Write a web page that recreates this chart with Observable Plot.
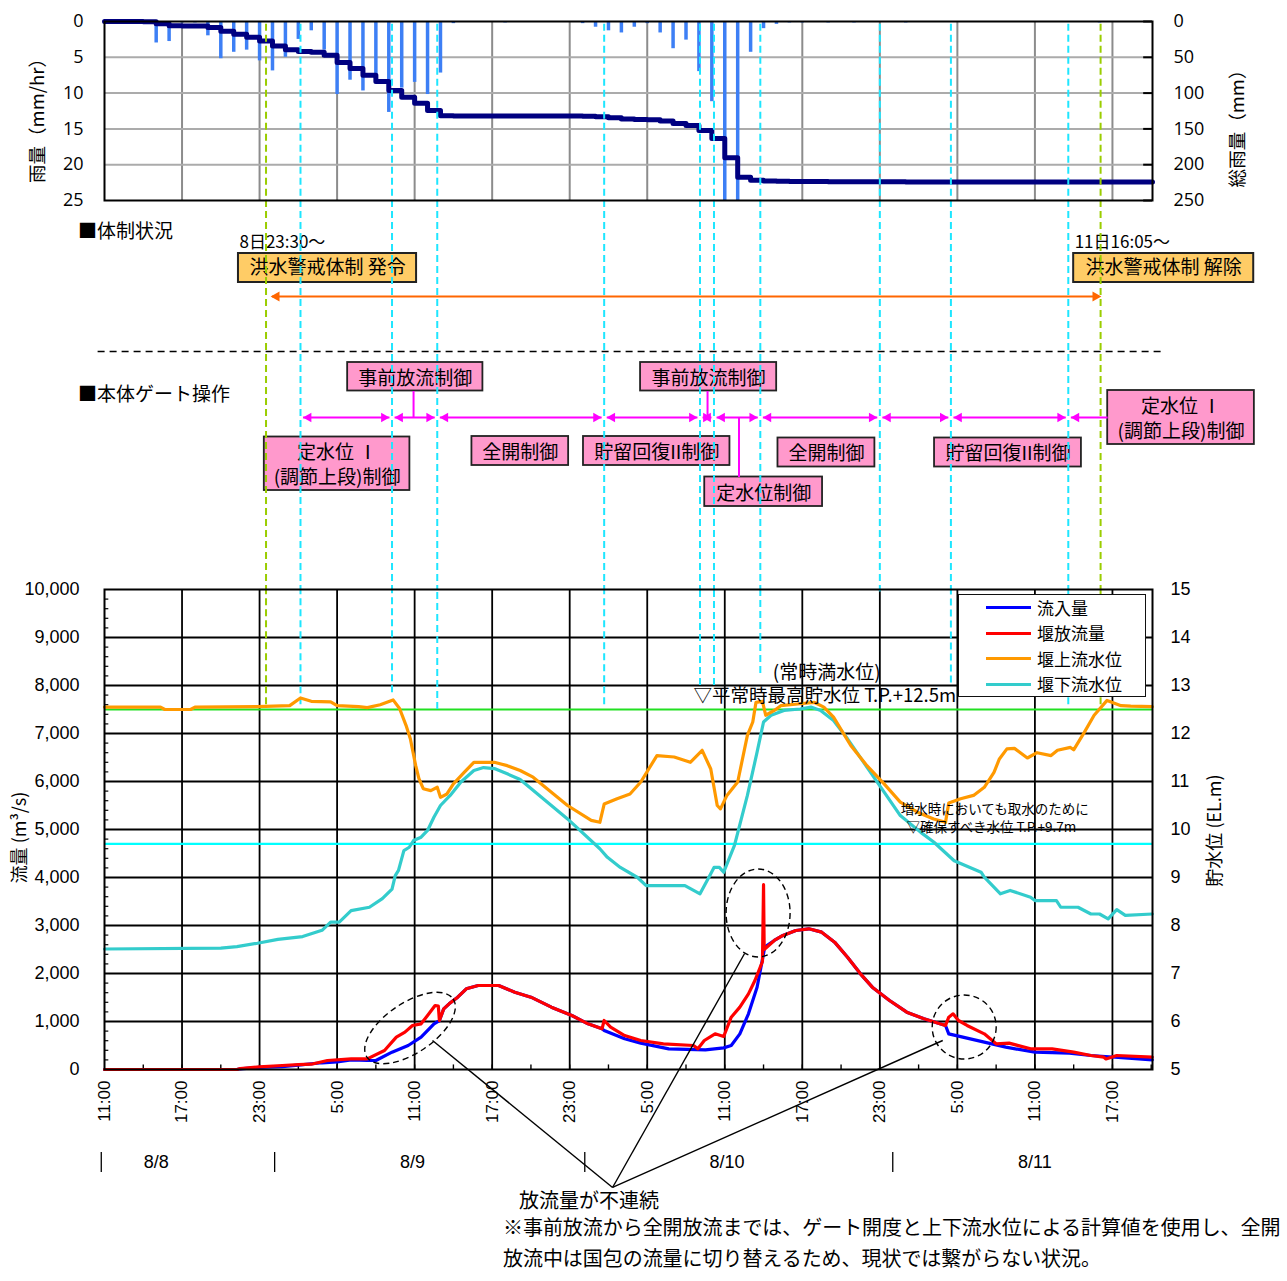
<!DOCTYPE html>
<html><head><meta charset="utf-8">
<script src="https://cdn.jsdelivr.net/npm/d3@7"></script>
<script src="https://cdn.jsdelivr.net/npm/@observablehq/plot@0.6"></script>
<style>
body{margin:0;background:#fff;}
#wrap{position:relative;width:1287px;height:1281px;overflow:hidden;font-family:"Noto Sans CJK JP","Noto Sans",sans-serif;color:#000;}
#wrap svg{position:absolute;left:0;}
.t{position:absolute;white-space:nowrap;line-height:1;}
</style></head><body><div id="wrap"></div><script>
// ---------- data ----------
const hourlyRain = [
 ["8/8 14:00",0.2],["8/8 15:00",3.0],["8/8 16:00",2.8],["8/8 17:00",0.2],["8/8 18:00",0.2],["8/8 19:00",2.0],["8/8 20:00",5.2],["8/8 21:00",4.3],["8/8 22:00",4.0],["8/8 23:00",5.5],
 ["8/9 00:00",6.9],["8/9 01:00",5.0],["8/9 02:00",2.5],["8/9 03:00",1.3],["8/9 04:00",4.0],["8/9 05:00",10.2],["8/9 06:00",8.2],["8/9 07:00",9.7],["8/9 08:00",8.5],["8/9 09:00",12.7],
 ["8/9 10:00",9.3],["8/9 11:00",8.5],["8/9 12:00",10.2],["8/9 13:00",7.2],["8/9 14:00",0.3],["8/9 18:00",0.2],
 ["8/10 00:00",0.3],["8/10 01:00",0.8],["8/10 02:00",1.3],["8/10 03:00",1.6],["8/10 04:00",0.8],["8/10 05:00",0.3],["8/10 06:00",1.6],["8/10 07:00",3.8],["8/10 08:00",2.6],["8/10 09:00",7.0],
 ["8/10 10:00",11.2],["8/10 11:00",27],["8/10 12:00",27],["8/10 13:00",4.3],["8/10 14:00",1.0],["8/10 15:00",0.4],["8/10 16:00",0.2],["8/10 17:00",0.2],["8/10 19:00",0.2],["8/10 21:00",0.2],
 ["8/11 01:00",0.2],["8/11 16:00",0.2]
];
const totalRain = [
 ["8/8 11:00",0],["8/8 14:00",0.2],["8/8 15:00",3.2],["8/8 16:00",6.0],["8/8 17:00",6.2],["8/8 18:00",6.4],["8/8 19:00",8.4],["8/8 20:00",13.6],["8/8 21:00",17.9],["8/8 22:00",21.9],["8/8 23:00",27.4],
 ["8/9 00:00",34.3],["8/9 01:00",39.3],["8/9 02:00",41.8],["8/9 03:00",43.1],["8/9 04:00",47.1],["8/9 05:00",57.3],["8/9 06:00",65.5],["8/9 07:00",75.2],["8/9 08:00",83.7],["8/9 09:00",96.4],
 ["8/9 10:00",105.7],["8/9 11:00",114.2],["8/9 12:00",124.4],["8/9 13:00",131.6],["8/9 14:00",131.9],["8/9 18:00",132.1],
 ["8/10 00:00",132.4],["8/10 01:00",133.2],["8/10 02:00",134.5],["8/10 03:00",136.1],["8/10 04:00",136.9],["8/10 05:00",137.2],["8/10 06:00",138.8],["8/10 07:00",142.6],["8/10 08:00",145.2],["8/10 09:00",152.2],
 ["8/10 10:00",163.4],["8/10 11:00",190.4],["8/10 12:00",217.4],["8/10 13:00",221.7],["8/10 14:00",222.7],["8/10 15:00",223.1],["8/10 16:00",223.3],["8/10 17:00",223.5],["8/10 19:00",223.7],["8/10 21:00",223.9],
 ["8/11 01:00",224.1],["8/11 16:00",224.3],["8/11 20:06",224.3]
];
const inflow = [
 ["8/8 11:00",0],["8/8 21:15",0],["8/8 21:30",15],["8/8 23:00",45],["8/9 00:45",60],["8/9 02:00",90],["8/9 03:50",140],["8/9 05:00",160],["8/9 06:05",200],["8/9 07:20",188],["8/9 08:00",188],
 ["8/9 09:15",361],["8/9 10:30",500],["8/9 11:30",674],["8/9 12:30",951],["8/9 12:55",1020],["8/9 13:15",1264],["8/9 13:40",1368],["8/9 14:20",1507],["8/9 15:00",1681],["8/9 15:55",1750],
 ["8/9 17:30",1750],["8/9 18:45",1611],["8/9 20:00",1507],["8/9 21:35",1299],["8/9 23:10",1125],["8/10 00:25",951],["8/10 01:30",847],["8/10 01:40",813],["8/10 03:15",639],["8/10 04:30",549],
 ["8/10 06:40",431],["8/10 09:30",410],["8/10 10:55",451],["8/10 11:30",500],["8/10 12:10",743],["8/10 12:50",1160],["8/10 13:30",1715],["8/10 14:00",2410],["8/10 14:05",2549],["8/10 14:50",2688],
 ["8/10 15:30",2792],["8/10 16:30",2896],["8/10 17:30",2931],["8/10 18:30",2861],["8/10 19:30",2653],["8/10 20:30",2340],["8/10 21:30",1993],["8/10 22:25",1715],["8/10 23:45",1438],["8/11 01:05",1194],
 ["8/11 02:25",1056],["8/11 04:05",917],["8/11 04:20",743],["8/11 05:25",674],["8/11 07:05",570],["8/11 08:45",465],["8/11 11:00",361],["8/11 13:40",340],["8/11 15:20",292],["8/11 20:05",201]
];
const discharge = [
 ["8/8 11:00",0],["8/8 21:15",0],["8/8 21:30",20],["8/8 23:00",55],["8/9 00:45",83],["8/9 02:00",100],["8/9 03:00",110],["8/9 04:15",188],["8/9 06:05",222],["8/9 07:20",222],["8/9 08:40",396],
 ["8/9 09:35",674],["8/9 10:15",778],["8/9 10:50",917],["8/9 11:30",951],["8/9 12:00",1125],["8/9 12:35",1333],["8/9 12:50",1320],["8/9 12:55",1020],["8/9 13:15",1264],["8/9 13:40",1368],
 ["8/9 14:20",1507],["8/9 15:00",1681],["8/9 15:55",1750],["8/9 17:30",1750],["8/9 18:45",1611],["8/9 20:00",1507],["8/9 21:35",1299],["8/9 23:10",1125],["8/10 00:25",951],["8/10 01:30",847],
 ["8/10 01:40",1021],["8/10 02:10",882],["8/10 03:15",708],["8/10 04:30",604],["8/10 06:15",535],["8/10 08:35",500],["8/10 08:55",431],["8/10 09:25",604],["8/10 10:15",743],["8/10 10:55",688],
 ["8/10 11:30",1090],["8/10 12:10",1299],["8/10 12:50",1576],["8/10 13:20",1854],["8/10 13:55",2250],["8/10 14:00",3850],["8/10 14:03",2500],["8/10 14:50",2688],["8/10 15:30",2792],["8/10 16:30",2896],
 ["8/10 17:30",2931],["8/10 18:30",2861],["8/10 19:30",2653],["8/10 20:30",2340],["8/10 21:30",1993],["8/10 22:25",1715],["8/10 23:45",1438],["8/11 01:05",1194],["8/11 02:25",1056],["8/11 04:05",917],
 ["8/11 04:20",1090],["8/11 04:40",1160],["8/11 05:05",1021],["8/11 05:45",917],["8/11 07:05",743],["8/11 08:00",535],["8/11 09:00",549],["8/11 10:40",431],["8/11 12:20",431],["8/11 14:00",361],
 ["8/11 15:20",292],["8/11 16:20",257],["8/11 16:30",220],["8/11 17:20",292],["8/11 20:05",257]
];
const upstreamLevel = [
 ["8/8 11:00",12.55],["8/8 15:20",12.55],["8/8 15:40",12.50],["8/8 17:40",12.50],["8/8 18:00",12.55],["8/8 22:50",12.56],["8/9 01:20",12.58],["8/9 02:10",12.74],["8/9 03:00",12.67],["8/9 04:30",12.66],
 ["8/9 05:00",12.58],["8/9 06:40",12.56],["8/9 07:20",12.54],["8/9 08:20",12.60],["8/9 09:20",12.70],["8/9 09:50",12.52],["8/9 10:20",12.17],["8/9 10:40",11.89],["8/9 11:05",11.33],["8/9 11:20",11.06],
 ["8/9 11:40",10.85],["8/9 12:15",10.81],["8/9 12:45",10.88],["8/9 13:00",10.67],["8/9 13:30",10.74],["8/9 14:00",10.95],["8/9 14:50",11.19],["8/9 15:35",11.40],["8/9 17:10",11.40],["8/9 18:10",11.33],
 ["8/9 19:10",11.23],["8/9 20:10",11.09],["8/9 22:50",10.50],["8/10 00:40",10.19],["8/10 01:20",10.15],["8/10 01:40",10.53],["8/10 02:40",10.64],["8/10 03:40",10.74],["8/10 04:30",10.99],["8/10 05:45",11.54],
 ["8/10 07:05",11.51],["8/10 08:20",11.40],["8/10 09:15",11.65],["8/10 09:55",11.26],["8/10 10:25",10.50],["8/10 10:40",10.43],["8/10 11:10",10.71],["8/10 12:00",10.99],["8/10 12:45",11.96],["8/10 13:10",12.24],
 ["8/10 13:25",12.65],["8/10 13:55",12.67],["8/10 14:10",12.38],["8/10 14:50",12.48],["8/10 15:20",12.58],["8/10 16:50",12.62],["8/10 17:55",12.65],["8/10 18:40",12.55],["8/10 19:25",12.34],["8/10 20:45",11.75],
 ["8/10 22:00",11.33],["8/10 23:20",10.95],["8/11 00:35",10.57],["8/11 01:55",10.36],["8/11 03:10",10.22],["8/11 04:05",10.15],["8/11 04:20",10.55],["8/11 05:15",10.64],["8/11 06:15",10.71],["8/11 07:05",10.88],
 ["8/11 07:50",11.19],["8/11 08:15",11.47],["8/11 08:50",11.68],["8/11 09:25",11.69],["8/11 10:25",11.49],["8/11 11:10",11.60],["8/11 12:15",11.54],["8/11 12:45",11.65],["8/11 13:45",11.71],["8/11 14:00",11.66],
 ["8/11 14:50",12.03],["8/11 15:35",12.38],["8/11 16:35",12.69],["8/11 17:40",12.58],["8/11 18:25",12.57],["8/11 20:05",12.56]
];
const downstreamLevel = [
 ["8/8 11:00",7.51],["8/8 20:00",7.53],["8/8 21:15",7.56],["8/8 22:50",7.63],["8/9 00:25",7.71],["8/9 02:20",7.77],["8/9 03:50",7.90],["8/9 04:30",8.07],["8/9 05:10",8.07],["8/9 06:05",8.31],
 ["8/9 07:30",8.38],["8/9 08:30",8.56],["8/9 09:15",8.76],["8/9 09:30",9.04],["8/9 09:45",9.15],["8/9 10:10",9.56],["8/9 10:35",9.63],["8/9 10:55",9.77],["8/9 11:30",9.84],["8/9 12:00",9.98],
 ["8/9 12:30",10.26],["8/9 13:00",10.50],["8/9 13:45",10.71],["8/9 14:35",10.99],["8/9 15:35",11.23],["8/9 16:20",11.29],["8/9 17:10",11.27],["8/9 18:10",11.16],["8/9 19:10",11.04],["8/9 22:50",10.22],
 ["8/10 01:20",9.60],["8/10 01:55",9.42],["8/10 02:55",9.21],["8/10 04:15",9.00],["8/10 04:55",8.83],["8/10 07:55",8.83],["8/10 09:05",8.66],["8/10 09:55",9.08],["8/10 10:10",9.21],["8/10 10:35",9.21],
 ["8/10 10:55",9.11],["8/10 11:45",9.67],["8/10 12:45",10.71],["8/10 13:30",11.61],["8/10 14:00",12.24],["8/10 14:35",12.38],["8/10 15:35",12.48],["8/10 16:50",12.51],["8/10 17:40",12.55],["8/10 18:25",12.48],
 ["8/10 19:25",12.27],["8/10 20:30",11.89],["8/10 22:00",11.30],["8/10 23:20",10.78],["8/11 00:35",10.29],["8/11 02:10",9.94],["8/11 03:10",9.74],["8/11 04:45",9.35],["8/11 06:50",9.11],["8/11 07:05",9.01],
 ["8/11 08:20",8.66],["8/11 09:05",8.73],["8/11 10:40",8.59],["8/11 11:00",8.52],["8/11 12:40",8.52],["8/11 13:00",8.38],["8/11 14:20",8.38],["8/11 15:20",8.24],["8/11 16:00",8.24],["8/11 16:40",8.14],
 ["8/11 17:20",8.33],["8/11 18:00",8.21],["8/11 20:05",8.24]
];
const seriesNames = ["流入量","堰放流量","堰上流水位","堰下流水位"];
const seriesColors = ["#0000ff","#ff0000","#ff9900","#33cccc"];

const timeTicks = ["8/8 11:00","8/8 17:00","8/8 23:00","8/9 05:00","8/9 11:00","8/9 17:00","8/9 23:00","8/10 05:00","8/10 11:00","8/10 17:00","8/10 23:00","8/11 05:00","8/11 11:00","8/11 17:00"];
const rainTicks = [0,5,10,15,20,25];
const totalRainTicks = [0,50,100,150,200,250];
const flowTicks = [0,1000,2000,3000,4000,5000,6000,7000,8000,9000,10000];
const levelTicks = [5,6,7,8,9,10,11,12,13,14,15];
const dayLabels = ["8/8","8/9","8/10","8/11"];
const dayLabelTimes = ["8/8 15:00","8/9 10:50","8/10 11:10","8/11 11:00"];
const dayStartTimes = ["8/8 10:45","8/9 00:10","8/10 00:10","8/11 00:00"];

// operation (event) times
const alertTimes = ["8/8 23:30","8/11 16:05"];
const gateTimes = ["8/9 02:10","8/9 09:15","8/9 12:45","8/10 01:40","8/10 09:05","8/10 10:10","8/10 13:45","8/10 23:00","8/11 04:30","8/11 13:35"];
const normalHighWater = 12.5;   // 平常時最高貯水位
const intakeWater = 9.7;        // 取水のため確保すべき水位

// annotation texts
const alertLabels = ["洪水警戒体制 発令","洪水警戒体制 解除"];
const alertNotes = ["8日23:30～","11日16:05～"];
const alertSpans = [["8/8 21:22","8/9 11:09"],["8/11 14:00","8/12 03:56"]];
const gateLabels = ["事前放流制御","事前放流制御","定水位 Ⅰ\n(調節上段)制御","全開制御","貯留回復II制御","定水位制御","全開制御","貯留回復II制御","定水位 Ⅰ\n(調節上段)制御"];
const gateSpans = [["8/9 05:49","8/9 16:17"],["8/10 04:29","8/10 15:01"],["8/8 23:22","8/9 10:38"],["8/9 15:26","8/9 22:55"],["8/10 00:04","8/10 11:24"],["8/10 09:27","8/10 18:34"],["8/10 15:07","8/10 22:37"],["8/11 03:14","8/11 14:36"],["8/11 16:38","8/12 03:59"]];
const gateRows = [[162,190.5],[162,190.5],[236.5,290],[236,265],[236,265],[276.5,306],[237.5,266.5],[237.5,266.5],[190,244]];
const connectorTimes = ["8/9 10:55","8/10 09:40","8/10 12:06"];
const connectorRows = [[190.5,217],[190.5,217],[217,276.5]];

// ---------- helpers ----------
const T = s => { const [md, hm] = s.split(" "); const [m, d] = md.split("/").map(Number); const [H, M] = hm.split(":").map(Number); return new Date(Date.UTC(2019, m - 1, d, H, M)); };
const levelToFlow = L => (L - 5) * 1000;
const W = 1287, ML = 104, MR = 135;
const xDomain = [T("8/8 11:00"), T("8/11 20:06")];
const CYAN = "#1ee6ff", ALERT = "#9acd00", MAG = "#ff00ff";
const FJ = "'Noto Sans CJK JP','Noto Sans',sans-serif";
const FN = "'Liberation Sans',Arial,sans-serif";
const FR = "'Open Sans','Noto Sans',sans-serif";
const dash = "7,4";
const wrap = document.getElementById("wrap");
const place = (svg, top) => { svg.style.position = "absolute"; svg.style.top = top + "px"; svg.style.left = "0px"; svg.style.maxWidth = "none"; wrap.appendChild(svg); return svg; };
const minutes = (d, m) => new Date(+d + m * 60000);

// ---------- middle: operations ----------
const alertBoxes = alertLabels.map((label, i) => ({label, note: alertNotes[i], t1: T(alertSpans[i][0]), t2: T(alertSpans[i][1])}));
const gateBoxes = gateLabels.map((label, i) => ({label, t1: T(gateSpans[i][0]), t2: T(gateSpans[i][1]), y1: gateRows[i][0], y2: gateRows[i][1]}));
const gT = gateTimes.map(T);
const segs = gT.map((a, i) => i + 1 < gT.length ? {a: minutes(a, 12), b: minutes(gT[i + 1], -12), both: true} : {a: minutes(a, 12), b: gateBoxes[8].t1, both: false});
const allOps = [...alertTimes.map(t => ({t: T(t), c: ALERT})), ...gT.map(t => ({t, c: CYAN}))];

const gatePlot = Plot.plot({
  width: W, height: 389, marginTop: 0, marginBottom: 0, marginLeft: ML, marginRight: MR,
  style: {background: "transparent", fontFamily: FJ, fontSize: "19px", overflow: "visible"},
  x: {type: "utc", domain: xDomain, axis: null},
  y: {domain: [0, 389], range: [0, 389], axis: null},
  marks: [
    Plot.link([0], {x1: T("8/8 10:28"), x2: T("8/11 20:47"), y1: 151, y2: 151, stroke: "#000", strokeWidth: 1.6, strokeDasharray: "7,5"}),
    Plot.rect(alertBoxes, {x1: "t1", x2: "t2", y1: 53, y2: 82, fill: "#ffcc66", stroke: "#222", strokeWidth: 2}),
    Plot.text(alertBoxes, {x: d => new Date((+d.t1 + +d.t2) / 2), y: 67.5, text: "label", fontSize: 19}),
    Plot.text(alertBoxes, {x: "t1", y: 42, text: "note", textAnchor: "start", fontSize: 17, dx: 1}),
    Plot.link([0], {x1: T("8/8 23:58"), x2: T("8/11 15:58"), y1: 96, y2: 96, stroke: "#ff6600", strokeWidth: 2}),
    Plot.dot([T("8/8 23:51")], {x: d => d, y: 96, symbol: "triangle", r: 3.8, rotate: -90, dx: 6, fill: "#ff6600"}),
    Plot.dot([T("8/11 16:09")], {x: d => d, y: 96, symbol: "triangle", r: 3.8, rotate: 90, dx: -6, fill: "#ff6600"}),
    Plot.rect(gateBoxes, {x1: "t1", x2: "t2", y1: "y1", y2: "y2", fill: "#ff99cc", stroke: "#222", strokeWidth: 1.8}),
    Plot.text(gateBoxes, {x: d => new Date((+d.t1 + +d.t2) / 2), y: d => (d.y1 + d.y2) / 2, text: "label", fontSize: 19, lineHeight: 1.3}),
    Plot.link(connectorTimes, {x1: d => T(d), x2: d => T(d), y1: (d, i) => connectorRows[i][0], y2: (d, i) => connectorRows[i][1], stroke: MAG, strokeWidth: 2}),
    Plot.link(segs, {x1: "a", x2: "b", y1: 217, y2: 217, stroke: MAG, strokeWidth: 2}),
    Plot.dot(segs, {x: "a", y: 217, symbol: "triangle", r: 3.6, rotate: -90, dx: 5.5, fill: MAG}),
    Plot.dot(segs.filter(d => d.both), {x: "b", y: 217, symbol: "triangle", r: 3.6, rotate: 90, dx: -5.5, fill: MAG}),
    Plot.ruleX(allOps.filter(d => d.c === CYAN), {x: "t", y1: 0, y2: 389, stroke: CYAN, strokeWidth: 2, strokeDasharray: dash}),
    Plot.ruleX(allOps.filter(d => d.c === ALERT), {x: "t", y1: 0, y2: 389, stroke: ALERT, strokeWidth: 2, strokeDasharray: dash})
  ]
});
place(gatePlot, 200);

// ---------- top: rainfall ----------
const rainPlot = Plot.plot({
  width: W, height: 215, marginTop: 21, marginBottom: 15, marginLeft: ML, marginRight: MR,
  style: {background: "transparent", fontFamily: FR, fontSize: "18px", overflow: "visible"},
  x: {type: "utc", domain: xDomain, axis: null},
  y: {domain: [0, 25], reverse: true},
  marks: [
    Plot.ruleX(timeTicks.slice(1).map(T), {stroke: "#8c8c8c", strokeWidth: 2}),
    Plot.ruleY([5, 10, 15, 20], {stroke: "#ababab", strokeWidth: 2}),
    Plot.ruleX(hourlyRain, {x: d => T(d[0]), y1: 0, y2: d => d[1], stroke: "#3d7ff5", strokeWidth: 3.5, clip: true}),
    Plot.line(totalRain, {x: d => T(d[0]), y: d => d[1] / 10, curve: "step-after", stroke: "#000080", strokeWidth: 5}),
    Plot.ruleX(allOps.filter(d => d.c === CYAN), {x: "t", y1: 0.4, y2: 25, stroke: CYAN, strokeWidth: 2, strokeDasharray: dash}),
    Plot.ruleX(allOps.filter(d => d.c === ALERT), {x: "t", y1: 0.4, y2: 25, stroke: ALERT, strokeWidth: 2, strokeDasharray: dash}),
    Plot.ruleY(rainTicks, {x1: T("8/11 19:25"), x2: xDomain[1], stroke: "#000", strokeWidth: 2}),
    Plot.frame({stroke: "#000", strokeWidth: 2}),
    Plot.axisY(rainTicks, {anchor: "left", tickSize: 0, tickPadding: 21, label: null, fontSize: 18}),
    Plot.axisY(totalRainTicks.map(v => v / 10), {anchor: "right", tickSize: 0, tickPadding: 21, label: null, fontSize: 18, tickFormat: (d, i) => totalRainTicks[i]}),
    Plot.text(["雨量（mm/hr）"], {text: d => d, frameAnchor: "left", textAnchor: "middle", dx: -66, dy: 5, rotate: -90, fontFamily: FJ, fontSize: 18.5}),
    Plot.text(["総雨量（mm）"], {text: d => d, frameAnchor: "right", textAnchor: "middle", dx: 86, dy: 13, rotate: -90, fontFamily: FJ, fontSize: 18.5})
  ]
});
place(rainPlot, 0);

// ---------- bottom: flow & water level ----------
const minorFlow = d3.range(200, 10000, 200).filter(v => v % 1000 !== 0);
const threeHour = d3.range(0, 27).map(i => d3.utcHour.offset(T("8/8 14:00"), 3 * i));
const opEnds = [7600, 7600, 7850, 7500, 7600, 8000, 8000, 8250, 9950, 8050, 7600, 7600];
const opsBottom = [T(alertTimes[0]), ...gT, T(alertTimes[1])].map((t, i) => ({t, end: opEnds[i], c: (i === 0 || i === 11) ? ALERT : CYAN}));
const leaderFrom = [["8/9 12:23",604],["8/10 12:32",2417],["8/11 03:52",604]];
const leaderTo = ["8/10 02:19",-2458];

const flowPlot = Plot.plot({
  width: W, height: 721, marginTop: 29, marginBottom: 212, marginLeft: ML, marginRight: MR,
  style: {background: "transparent", fontFamily: FN, fontSize: "18px", overflow: "visible"},
  x: {type: "utc", domain: xDomain},
  y: {domain: [0, 10000]},
  marks: [
    Plot.ruleX(timeTicks.slice(1).map(T), {stroke: "#000", strokeWidth: 1.8}),
    Plot.ruleY(flowTicks.slice(1, -1), {stroke: "#000", strokeWidth: 1.8}),
    Plot.ruleY(minorFlow, {x1: xDomain[0], x2: T("8/8 11:20"), stroke: "#000", strokeWidth: 1.2}),
    Plot.ruleX(threeHour, {y1: 0, y2: 95, stroke: "#000", strokeWidth: 1.4}),
    Plot.ruleY([levelToFlow(normalHighWater)], {stroke: "#22e022", strokeWidth: 2.2}),
    Plot.ruleY([levelToFlow(intakeWater)], {stroke: "#00ffff", strokeWidth: 2.2}),
    Plot.ruleX(opsBottom.filter(d => d.c === CYAN), {x: "t", y1: "end", y2: 10000, stroke: CYAN, strokeWidth: 2, strokeDasharray: dash}),
    Plot.ruleX(opsBottom.filter(d => d.c === ALERT), {x: "t", y1: "end", y2: 10000, stroke: ALERT, strokeWidth: 2, strokeDasharray: dash}),
    Plot.line(downstreamLevel, {x: d => T(d[0]), y: d => levelToFlow(d[1]), stroke: seriesColors[3], strokeWidth: 3.2}),
    Plot.line(upstreamLevel, {x: d => T(d[0]), y: d => levelToFlow(d[1]), stroke: seriesColors[2], strokeWidth: 3.2}),
    Plot.line(inflow, {x: d => T(d[0]), y: d => d[1], stroke: seriesColors[0], strokeWidth: 3.2}),
    Plot.line(discharge, {x: d => T(d[0]), y: d => d[1], stroke: seriesColors[1], strokeWidth: 3.2}),
    Plot.text(["▽平常時最高貯水位 T.P.+12.5m"], {text: d => d, x: T("8/10 08:35"), y: levelToFlow(normalHighWater), dy: -13, textAnchor: "start", fontFamily: FJ, fontSize: 18.5}),
    Plot.text(["(常時満水位)"], {text: d => d, x: T("8/10 18:53"), y: levelToFlow(normalHighWater), dy: -37, fontFamily: FJ, fontSize: 19}),
    Plot.text(["増水時においても取水のために"], {text: d => d, x: T("8/11 00:37"), y: levelToFlow(intakeWater), dy: -34, textAnchor: "start", fontFamily: FJ, fontSize: 13.5}),
    Plot.text(["▽確保すべき水位 T.P.+9.7m"], {text: d => d, x: T("8/11 01:04"), y: levelToFlow(intakeWater), dy: -16, textAnchor: "start", fontFamily: FJ, fontSize: 13.5}),
    Plot.link(leaderFrom, {x1: d => T(d[0]), y1: d => d[1], x2: T(leaderTo[0]), y2: leaderTo[1], stroke: "#000", strokeWidth: 1.4}),
    Plot.frame({stroke: "#000", strokeWidth: 2}),
    Plot.axisY(flowTicks, {anchor: "left", tickSize: 0, tickPadding: 25, tickFormat: d3.format(","), label: null, fontSize: 18}),
    Plot.axisY(levelTicks.map(levelToFlow), {anchor: "right", tickSize: 0, tickPadding: 18, tickFormat: (d, i) => levelTicks[i], label: null, fontSize: 18}),
    Plot.axisX(timeTicks.map(T), {anchor: "bottom", tickSize: 0, tickPadding: 11, tickRotate: -90, tickFormat: d3.utcFormat("%-H:%M"), label: null, fontSize: 17}),
    Plot.text(["流量 (m³/s)"], {text: d => d, frameAnchor: "left", textAnchor: "middle", dx: -84, dy: 8, rotate: -90, fontFamily: FJ, fontSize: 18}),
    Plot.text(["貯水位 (EL.m)"], {text: d => d, frameAnchor: "right", textAnchor: "middle", dx: 63, dy: 1, rotate: -90, fontFamily: FJ, fontSize: 18}),
    Plot.ruleX(dayStartTimes.map(T), {y1: -1729, y2: -2146, stroke: "#000", strokeWidth: 1.3}),
    Plot.text(dayLabels, {text: d => d, x: (d, i) => T(dayLabelTimes[i]), y: -1937, fontFamily: FN, fontSize: 18})
  ]
});
place(flowPlot, 560);

// dashed ellipses marking discontinuities
const ellipses = [
  {t: "8/9 10:41", v: 854, rx: 52, ry: 25, a: -34},
  {t: "8/10 13:37", v: 3250, rx: 32, ry: 44, a: 0},
  {t: "8/11 05:34", v: 875, rx: 32, ry: 32, a: 0}
];
const sx = flowPlot.scale("x"), sy = flowPlot.scale("y");
const gsel = d3.select(flowPlot).append("g");
ellipses.forEach(e => {
  const cx = sx.apply(T(e.t)), cy = sy.apply(e.v);
  gsel.append("ellipse").attr("cx", 0).attr("cy", 0).attr("rx", e.rx).attr("ry", e.ry)
    .attr("transform", `translate(${cx},${cy}) rotate(${e.a})`)
    .attr("fill", "none").attr("stroke", "#000").attr("stroke-width", 1.4).attr("stroke-dasharray", "6,4");
});

// ---------- HTML texts ----------
const addText = (txt, left, top, size, extra = "") => {
  const d = document.createElement("div"); d.className = "t"; d.textContent = txt;
  d.style.cssText += `left:${left}px;top:${top}px;font-size:${size}px;${extra}`; wrap.appendChild(d); return d;
};
addText("■体制状況", 78, 220, 19);
addText("■本体ゲート操作", 78, 383, 19);
addText("放流量が不連続", 519, 1190, 20);
addText("※事前放流から全開放流までは、ゲート開度と上下流水位による計算値を使用し、全開", 503, 1217, 20, "letter-spacing:-0.05px;");
addText("放流中は国包の流量に切り替えるため、現状では繋がらない状況。", 503, 1248, 20, "letter-spacing:-0.05px;");

// legend
const lg = document.createElement("div");
lg.style.cssText = "position:absolute;left:958px;top:594px;width:186px;height:101px;background:#fff;border:1.6px solid #111;";
wrap.appendChild(lg);
seriesNames.forEach((name, i) => {
  const cy = 12.5 + i * 25.6;
  const ln = document.createElement("div");
  ln.style.cssText = `position:absolute;left:27px;top:${cy - 1.6}px;width:45px;height:3.2px;background:${seriesColors[i]};`;
  lg.appendChild(ln);
  const tx = document.createElement("div"); tx.className = "t"; tx.textContent = name;
  tx.style.cssText += `left:78px;top:${cy - 9}px;font-size:17px;`;
  lg.appendChild(tx);
});
</script></body></html>
